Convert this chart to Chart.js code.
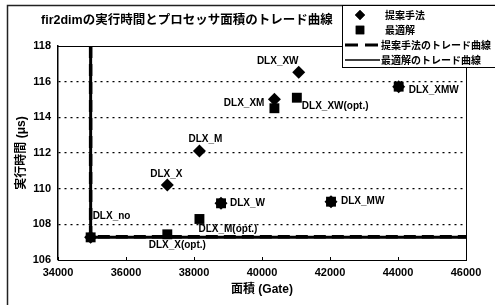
<html>
  <head>
    <meta charset="utf-8" />
    <title>fir2dim trade curve</title>
    <style>
      body { margin: 0; background: #fff; }
      #wrap { width: 495px; height: 305px; }
    </style>
  </head>
  <body>
    <div id="wrap"><canvas id="chart"></canvas></div>

    <script src="https://cdn.jsdelivr.net/npm/chart.js@4"></script>
    <script type="text/javascript">
      const chartTitle = 'fir2dimの実行時間とプロセッサ面積のトレード曲線';
      const xTitle = '面積 (Gate)';
      const yTitle = '実行時間 (μs)';
      const seriesNames = ['提案手法', '最適解', '提案手法のトレード曲線', '最適解のトレード曲線'];

      // 提案手法
      const proposedLabels = ['DLX_no', 'DLX_X', 'DLX_M', 'DLX_W', 'DLX_XM', 'DLX_XW', 'DLX_MW', 'DLX_XMW'];
      const proposedArea = [34960, 37215, 38160, 38795, 40365, 41080, 42030, 44020];
      const proposedTime = [107.27, 110.2, 112.11, 109.18, 115.01, 116.53, 109.27, 115.72];

      // 最適解
      const optimalLabels = ['', 'DLX_X(opt.)', 'DLX_M(opt.)', '', '', 'DLX_XW(opt.)', '', ''];
      const optimalArea = [34960, 37215, 38160, 38795, 40365, 41025, 42030, 44020];
      const optimalTime = [107.27, 107.44, 108.3, 109.18, 114.51, 115.1, 109.27, 115.72];

      // trade curves
      const proposedCurveArea = [34960, 34960, 46000];
      const proposedCurveTime = [118, 107.3, 107.3];
      const optimalCurveArea = [34960, 34960, 46000];
      const optimalCurveTime = [118, 107.27, 107.27];

      const xTicks = { min: 34000, max: 46000, step: 2000 };
      const yTicks = { min: 106, max: 118, step: 2 };

      // where each point label sits relative to its marker
      const labelPlace = {
        'DLX_no': { dx: 2, dy: -21, align: 'left' },
        'DLX_X': { dx: -1, dy: -11, align: 'center' },
        'DLX_M': { dx: 6, dy: -12, align: 'center' },
        'DLX_W': { dx: 9, dy: 0, align: 'left' },
        'DLX_XM': { dx: -10, dy: 4, align: 'right' },
        'DLX_XW': { dx: -21, dy: -11, align: 'center' },
        'DLX_MW': { dx: 10, dy: 0, align: 'left' },
        'DLX_XMW': { dx: 10, dy: 4, align: 'left' },
        'DLX_X(opt.)': { dx: 10, dy: 11, align: 'center' },
        'DLX_M(opt.)': { dx: -1, dy: 10, align: 'left' },
        'DLX_XW(opt.)': { dx: 5, dy: 9, align: 'left' },
      };

      const latinFont = '"Liberation Sans", "Noto Sans CJK JP", sans-serif';
      const pts = (xs, ys) => xs.map((x, i) => ({ x, y: ys[i] }));

      const decor = {
        id: 'decor',
        beforeDraw(chart) {
          const { ctx, width, height } = chart;
          ctx.save();
          ctx.fillStyle = '#fff';
          ctx.fillRect(0, 0, width, height);
          ctx.restore();
        },
        afterDatasetsDraw(chart) {
          const { ctx } = chart;
          ctx.save();
          ctx.font = 'bold 10px ' + latinFont;
          ctx.fillStyle = '#000';
          ctx.textBaseline = 'middle';
          [[0, proposedLabels], [1, optimalLabels]].forEach(([idx, names]) => {
            const meta = chart.getDatasetMeta(idx);
            names.forEach((name, i) => {
              if (!name) return;
              const p = meta.data[i];
              const place = labelPlace[name];
              ctx.textAlign = place.align;
              ctx.fillText(name, p.x + place.dx, p.y + place.dy);
            });
          });
          ctx.restore();
        },
        afterDraw(chart) {
          const { ctx, chartArea: a } = chart;
          const xs = chart.scales.x;
          ctx.save();
          ctx.strokeStyle = '#000';
          ctx.lineWidth = 1;
          // top and right sides of the plot box
          ctx.beginPath();
          ctx.moveTo(a.left, a.top + 0.5);
          ctx.lineTo(a.right + 0.5, a.top + 0.5);
          ctx.lineTo(a.right + 0.5, a.bottom);
          ctx.stroke();
          // small inner ticks on the x axis
          ctx.beginPath();
          xs.ticks.forEach((t) => {
            const px = Math.round(xs.getPixelForValue(t.value)) + 0.5;
            ctx.moveTo(px, a.bottom);
            ctx.lineTo(px, a.bottom - 3);
          });
          ctx.stroke();

          // outer frame
          ctx.lineWidth = 1.5;
          ctx.strokeStyle = '#222';
          ctx.strokeRect(7.5, 5.5, 700, 500);

          // title
          ctx.fillStyle = '#000';
          ctx.font = 'bold 12.5px ' + latinFont;
          ctx.textAlign = 'left';
          ctx.textBaseline = 'middle';
          ctx.fillText(chartTitle, 41, 21);

          // legend box
          const lx = 342.5, ly = 5.5;
          ctx.fillStyle = '#fff';
          ctx.fillRect(lx, ly, 200, 62);
          ctx.strokeStyle = '#000';
          ctx.lineWidth = 1;
          ctx.strokeRect(lx, ly, 200, 62);

          const rows = [15, 30, 45, 60];
          ctx.fillStyle = '#000';
          Chart.helpers.drawPoint(ctx, { pointStyle: 'rectRot', radius: 5, rotation: 0 }, 360, rows[0]);
          ctx.fill();
          Chart.helpers.drawPoint(ctx, { pointStyle: 'rect', radius: 6, rotation: 0 }, 360, rows[1]);
          ctx.fill();

          ctx.lineWidth = 3;
          ctx.setLineDash([13, 7]);
          ctx.beginPath();
          ctx.moveTo(345, rows[2]);
          ctx.lineTo(380, rows[2]);
          ctx.stroke();
          ctx.setLineDash([]);
          ctx.lineWidth = 1.5;
          ctx.beginPath();
          ctx.moveTo(345, rows[3]);
          ctx.lineTo(380, rows[3]);
          ctx.stroke();

          ctx.font = 'bold 10px "Noto Sans CJK JP", sans-serif';
          ctx.textAlign = 'left';
          ctx.textBaseline = 'middle';
          seriesNames.forEach((name, i) => {
            ctx.fillText(name, i < 2 ? 385 : 381, rows[i]);
          });
          ctx.restore();
        },
      };

      new Chart(document.getElementById('chart'), {
        type: 'scatter',
        data: {
          datasets: [
            {
              label: seriesNames[0],
              data: pts(proposedArea, proposedTime),
              pointStyle: 'rectRot',
              pointRadius: 6.5,
              backgroundColor: '#000',
              borderColor: '#000',
              borderWidth: 0,
            },
            {
              label: seriesNames[1],
              data: pts(optimalArea, optimalTime),
              pointStyle: 'rect',
              pointRadius: 7,
              backgroundColor: '#000',
              borderColor: '#000',
              borderWidth: 0,
            },
            {
              label: seriesNames[2],
              type: 'line',
              data: pts(proposedCurveArea, proposedCurveTime),
              showLine: true,
              borderColor: '#000',
              borderWidth: 3.5,
              borderDash: [12, 6],
              pointRadius: 0,
              fill: false,
            },
            {
              label: seriesNames[3],
              type: 'line',
              data: pts(optimalCurveArea, optimalCurveTime),
              showLine: true,
              borderColor: '#000',
              borderWidth: 3,
              pointRadius: 0,
              fill: false,
            },
          ],
        },
        options: {
          responsive: true,
          maintainAspectRatio: false,
          animation: false,
          layout: { padding: { top: 46, right: 29, left: 0, bottom: 0 } },
          plugins: {
            legend: { display: false },
            title: { display: false },
            tooltip: { enabled: false },
          },
          scales: {
            x: {
              type: 'linear',
              min: xTicks.min,
              max: xTicks.max,
              afterFit: (s) => { s.height = 45; },
              ticks: {
                stepSize: xTicks.step,
                padding: 6,
                color: '#000',
                callback: (v) => String(v),
                font: { family: latinFont, size: 11, weight: 'bold' },
              },
              grid: { display: false, drawTicks: false },
              border: { display: true, color: '#000', width: 1 },
              title: {
                display: true,
                text: xTitle,
                color: '#000',
                font: { family: latinFont, size: 12, weight: 'bold' },
                padding: { top: 0, bottom: 8 },
              },
            },
            y: {
              type: 'linear',
              min: yTicks.min,
              max: yTicks.max,
              afterFit: (s) => { s.width = 58; },
              ticks: {
                stepSize: yTicks.step,
                padding: 7,
                color: '#000',
                callback: (v) => String(v),
                font: { family: latinFont, size: 11, weight: 'bold' },
              },
              grid: {
                drawTicks: false,
                color: (c) => (c.tick && (c.tick.value === yTicks.min || c.tick.value === yTicks.max) ? 'rgba(0,0,0,0)' : '#000'),
                lineWidth: 1.2,
              },
              border: { display: true, color: '#000', width: 1.5, dash: [2, 4] },
              title: {
                display: true,
                text: yTitle,
                color: '#000',
                font: { family: latinFont, size: 12, weight: 'bold' },
                padding: { top: 14, bottom: 0 },
              },
            },
          },
        },
        plugins: [decor],
      });
    </script>
  </body>
</html>
